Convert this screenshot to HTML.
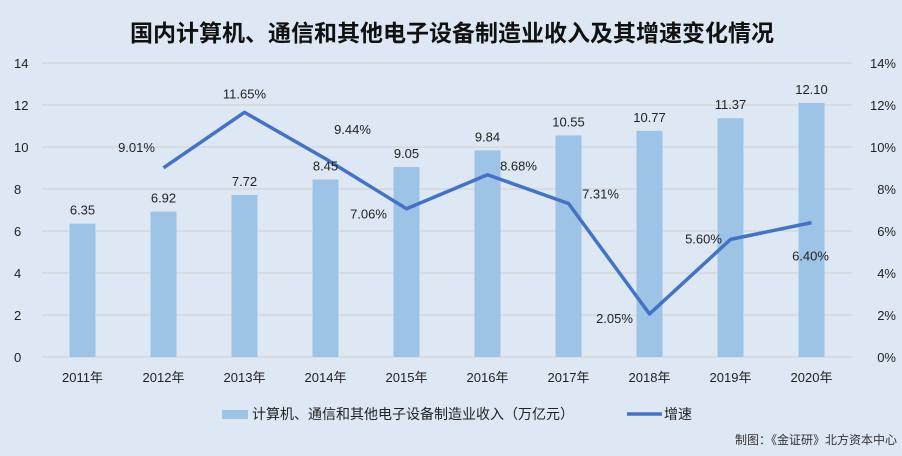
<!DOCTYPE html>
<html><head><meta charset="utf-8"><style>
body{margin:0;background:#dde8f4;}
svg{display:block;font-family:"Liberation Sans","Noto Sans CJK SC",sans-serif;}
</style></head><body>
<svg id="c" width="902" height="456" viewBox="0 0 902 456" xmlns="http://www.w3.org/2000/svg">
<rect width="902" height="456" fill="#dde8f4"/>
<text x="452" y="41" text-anchor="middle" font-size="23" font-weight="bold" fill="#111">国内计算机、通信和其他电子设备制造业收入及其增速变化情况</text>
<g id="grid"></g><g id="bars"></g><g id="line"></g><g id="labels"></g>
<g>
<rect x="222" y="410" width="26" height="9" fill="#9dc3e6"/>
<text x="252" y="419" font-size="14" fill="#222">计算机、通信和其他电子设备制造业收入（万亿元）</text>
<line x1="627" y1="414" x2="662" y2="414" stroke="#4472c4" stroke-width="3.5"/>
<text x="664" y="419" font-size="14" fill="#222">增速</text>
</g>
<text x="897" y="444" text-anchor="end" font-size="12" fill="#333">制图：《金证研》北方资本中心</text>
</svg>
<script>
const categories=["2011年","2012年","2013年","2014年","2015年","2016年","2017年","2018年","2019年","2020年"];
const revenue=[6.35,6.92,7.72,8.45,9.05,9.84,10.55,10.77,11.37,12.10];
const growth=[null,9.01,11.65,9.44,7.06,8.68,7.31,2.05,5.60,6.40];
const leftTicks=[0,2,4,6,8,10,12,14];
const rightTicks=[0,2,4,6,8,10,12,14];
const labelOffsets=[null,[-27,-16],[0,-14],[27,-25],[-38,10],[31,-4],[32,-5],[-35,9],[-27,4],[-1,38]];
const NS="http://www.w3.org/2000/svg";
const x0=42,x1=852,y0=357,y1=63;
const band=(x1-x0)/categories.length;
const xc=i=>x0+band*(i+0.5);
const yL=v=>y0-(v/14)*(y0-y1);
const yR=v=>y0-(v/14)*(y0-y1);
function mk(t,a,p,txt){const e=document.createElementNS(NS,t);for(const k in a)e.setAttribute(k,a[k]);if(txt!=null)e.textContent=txt;p.appendChild(e);return e;}
const G=document.getElementById('grid'),B=document.getElementById('bars'),L=document.getElementById('line'),T=document.getElementById('labels');
leftTicks.forEach(v=>{
 const ln=mk('line',{x1:x0,x2:x1,y1:yL(v),y2:yL(v),stroke:'#d0d0d0','stroke-width':1},G);
 
 
 const t=mk('text',{x:14,y:yL(v)+5,'font-size':13,fill:'#222'},G,String(v));
 
 
});
rightTicks.forEach(v=>{
 const t=mk('text',{x:896,y:yR(v)+5,'font-size':13,fill:'#222','text-anchor':'end'},G,v+'%');
 
 
});
categories.forEach((c,i)=>{
 const t=mk('text',{x:xc(i),y:382,'font-size':13,fill:'#222','text-anchor':'middle'},G,c);
 
 
 const r=mk('rect',{x:xc(i)-13,y:yL(revenue[i]),width:26,height:y0-yL(revenue[i]),fill:'#9dc3e6'},B);
 
 
 const bl=mk('text',{x:xc(i),y:yL(revenue[i])-9,'font-size':13,fill:'#222','text-anchor':'middle'},T,revenue[i].toFixed(2));
 
 
});
let pts=[];
growth.forEach((g,i)=>{if(g!=null)pts.push([xc(i),yR(g),i]);});
const pl=mk('polyline',{points:pts.map(p=>p[0]+','+p[1]).join(' '),fill:'none',stroke:'#4472c4','stroke-width':3.5,'stroke-linejoin':'round'},L);


pts.forEach(p=>{
 const o=labelOffsets[p[2]]||[0,-12];
 const t=mk('text',{x:p[0]+o[0],y:p[1]+o[1],'font-size':13,fill:'#222','text-anchor':'middle'},T,growth[p[2]].toFixed(2)+'%');
 
 
});
</script>
</body></html>
